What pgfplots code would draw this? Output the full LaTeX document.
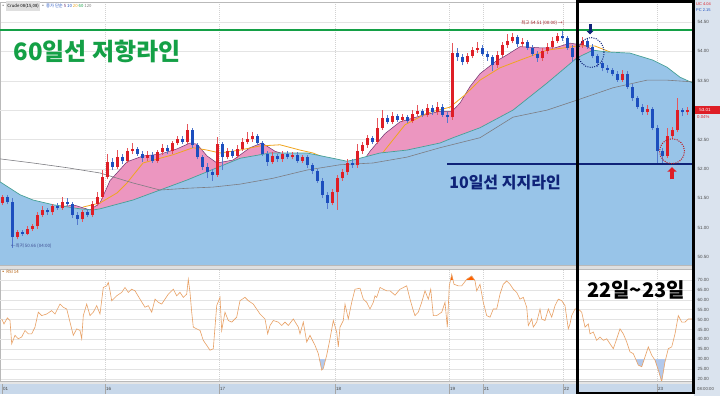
\documentclass[border=0pt]{standalone}
\usepackage{pgfplots}
\pgfplotsset{compat=1.18}
\usepackage{pgfplotstable}
\usetikzlibrary{arrows.meta}
\usepackage{fontspec}
\setmainfont{Liberation Sans}
\newfontfamily\kr{Noto Sans CJK KR}
\definecolor{upc}{RGB}{222,30,38}
\definecolor{dnc}{RGB}{28,78,190}
\definecolor{areablue}{RGB}{152,196,232}
\definecolor{pinkarea}{RGB}{236,150,192}
\definecolor{tealline}{RGB}{70,160,150}
\definecolor{ma5}{RGB}{110,50,110}
\definecolor{ma20}{RGB}{240,165,30}
\definecolor{ma120}{RGB}{125,125,130}
\definecolor{resgreen}{RGB}{20,160,70}
\definecolor{supnavy}{RGB}{15,35,120}
\definecolor{sidebg}{RGB}{218,227,238}
\definecolor{datebg}{RGB}{200,216,234}
\definecolor{rsiline}{RGB}{232,160,100}
\definecolor{gridc}{RGB}{228,228,228}

\pgfplotstableread{
x o h l c
2.5 51.42 51.56 51.38 51.52
17.5 50.84 50.96 50.80 50.92
27.5 50.90 51.02 50.87 50.98
32.5 50.98 51.06 50.94 51.02
37.5 51.02 51.26 50.98 51.22
42.5 51.22 51.36 51.18 51.30
52.5 51.26 51.40 51.22 51.36
62.5 51.34 51.52 51.30 51.44
82.5 51.14 51.30 51.10 51.26
92.5 51.22 51.46 51.18 51.40
97.5 51.40 51.60 51.36 51.52
102.5 51.52 51.98 51.48 51.86
107.5 51.86 52.25 51.82 52.12
117.5 52.04 52.32 52.00 52.20
127.5 52.14 52.36 52.10 52.30
132.5 52.30 52.44 52.26 52.34
147.5 52.18 52.30 52.14 52.24
157.5 52.14 52.32 52.10 52.28
162.5 52.28 52.42 52.24 52.36
172.5 52.30 52.48 52.26 52.44
177.5 52.44 52.56 52.40 52.50
187.5 52.46 52.76 52.42 52.66
217.5 51.90 52.55 51.86 52.42
227.5 52.20 52.36 52.16 52.30
237.5 52.22 52.40 52.18 52.34
242.5 52.34 52.52 52.30 52.46
247.5 52.46 52.62 52.42 52.50
252.5 52.50 52.62 52.46 52.56
272.5 52.12 52.28 52.08 52.22
282.5 52.16 52.30 52.12 52.26
292.5 52.20 52.28 52.16 52.24
302.5 52.14 52.24 52.10 52.20
332.5 51.42 51.66 51.38 51.60
337.5 51.60 51.90 51.30 51.84
342.5 51.84 52.00 51.80 51.94
347.5 51.94 52.16 51.90 52.10
357.5 52.06 52.42 52.02 52.30
362.5 52.30 52.46 52.26 52.40
367.5 52.40 52.58 52.36 52.52
377.5 52.46 52.86 52.42 52.70
382.5 52.70 53.00 52.66 52.86
392.5 52.80 52.96 52.76 52.90
402.5 52.84 52.94 52.80 52.88
412.5 52.82 53.00 52.78 52.94
417.5 52.94 53.08 52.90 52.98
427.5 52.92 53.10 52.88 53.04
437.5 52.96 53.14 52.92 53.06
452.5 52.88 54.14 52.84 53.98
467.5 53.82 53.98 53.78 53.92
472.5 53.92 54.08 53.88 54.02
477.5 54.02 54.16 53.98 54.06
497.5 53.76 54.00 53.72 53.94
502.5 53.94 54.16 53.90 54.10
507.5 54.10 54.30 54.06 54.18
512.5 54.18 54.32 54.14 54.24
522.5 54.12 54.22 54.08 54.16
542.5 53.88 54.06 53.84 54.00
547.5 54.00 54.14 53.96 54.08
552.5 54.08 54.24 54.04 54.18
557.5 54.18 54.32 54.14 54.26
577.5 53.90 54.14 53.86 54.10
582.5 54.10 54.24 54.06 54.18
622.5 53.52 53.68 53.48 53.62
647.5 52.96 53.08 52.92 53.02
667.5 52.22 52.70 52.18 52.56
672.5 52.56 52.72 52.50 52.66
677.5 52.66 53.20 52.62 53.00
687.5 52.96 53.06 52.92 53.01
}\upcandles

\pgfplotstableread{
x o h l c
7.5 51.52 51.56 51.40 51.44
12.5 51.44 51.50 50.66 50.84
22.5 50.92 50.96 50.86 50.90
47.5 51.30 51.34 51.22 51.26
57.5 51.36 51.42 51.30 51.34
67.5 51.44 51.50 51.36 51.40
72.5 51.40 51.44 51.16 51.22
77.5 51.22 51.26 51.05 51.14
87.5 51.26 51.32 51.18 51.22
112.5 52.12 52.18 51.98 52.04
122.5 52.20 52.26 52.08 52.14
137.5 52.34 52.38 52.22 52.26
142.5 52.26 52.30 52.12 52.18
152.5 52.24 52.28 52.10 52.14
167.5 52.36 52.40 52.26 52.30
182.5 52.50 52.56 52.42 52.46
192.5 52.66 52.70 52.36 52.40
197.5 52.40 52.44 52.16 52.20
202.5 52.20 52.24 51.98 52.04
207.5 52.04 52.10 51.84 51.94
212.5 51.94 52.00 51.80 51.90
222.5 52.42 52.46 51.98 52.20
232.5 52.30 52.34 52.18 52.22
257.5 52.56 52.60 52.40 52.44
262.5 52.44 52.48 52.22 52.26
267.5 52.26 52.30 52.05 52.12
277.5 52.22 52.26 52.12 52.16
287.5 52.26 52.30 52.16 52.20
297.5 52.24 52.28 52.10 52.14
307.5 52.20 52.24 52.02 52.06
312.5 52.06 52.10 51.92 51.96
317.5 51.96 52.00 51.76 51.80
322.5 51.80 51.84 51.50 51.56
327.5 51.56 51.60 51.32 51.42
352.5 52.10 52.16 52.02 52.06
372.5 52.52 52.56 52.42 52.46
387.5 52.86 52.92 52.76 52.80
397.5 52.90 52.94 52.80 52.84
407.5 52.88 52.92 52.78 52.82
422.5 52.98 53.02 52.88 52.92
432.5 53.04 53.08 52.92 52.96
442.5 53.06 53.10 52.88 52.92
447.5 52.92 52.96 52.78 52.88
457.5 53.98 54.06 53.84 53.90
462.5 53.90 53.96 53.76 53.82
482.5 54.06 54.10 53.92 53.96
487.5 53.96 54.00 53.84 53.90
492.5 53.90 53.94 53.66 53.76
517.5 54.24 54.28 54.08 54.12
527.5 54.16 54.20 54.02 54.06
532.5 54.06 54.10 53.92 53.96
537.5 53.96 54.00 53.82 53.88
562.5 54.26 54.36 54.18 54.22
567.5 54.22 54.26 54.02 54.06
572.5 54.06 54.10 53.82 53.90
587.5 54.18 54.22 54.04 54.08
592.5 54.08 54.12 53.88 53.92
597.5 53.92 53.96 53.74 53.80
602.5 53.80 53.84 53.66 53.72
607.5 53.72 53.76 53.64 53.68
612.5 53.68 53.72 53.58 53.62
617.5 53.62 53.66 53.48 53.52
627.5 53.62 53.66 53.36 53.40
632.5 53.40 53.44 53.16 53.20
637.5 53.20 53.24 53.02 53.06
642.5 53.06 53.10 52.92 52.96
652.5 53.02 53.06 52.66 52.70
657.5 52.70 52.74 52.10 52.30
662.5 52.30 52.36 52.08 52.22
682.5 53.00 53.04 52.90 52.96
}\dncandles

\pgfplotstableread{
x y
0 51.78
20 51.56
33 51.47
53 51.39
80 51.32
93 51.30
100 51.32
133 51.47
160 51.64
187 51.81
207 51.95
240 52.18
270 52.27
307 52.27
333 52.18
347 52.13
353 52.15
380 52.27
407 52.32
440 52.44
453 52.53
480 52.70
513 53.00
547 53.46
577 53.89
593 54.02
607 53.99
630 53.97
653 53.85
667 53.73
680 53.56
693 53.46
}\masixty

\pgfplotstableread{
x y
0 52.17
33 52.10
67 52.02
100 51.93
133 51.76
160 51.64
187 51.67
213 51.69
240 51.74
273 51.84
307 51.98
340 52.07
373 52.10
407 52.20
440 52.36
480 52.53
513 52.88
547 53.00
577 53.17
613 53.38
647 53.51
667 53.51
693 53.48
}\maonetwenty

\pgfplotstableread{
x y
0 51.46
15 51.30
30 51.06
45 51.12
60 51.36
75 51.38
90 51.30
100 51.42
110 51.80
127 52.12
143 52.22
160 52.25
177 52.34
190 52.44
197 52.42
207 52.22
217 52.10
233 52.15
250 52.36
262 52.44
275 52.30
290 52.22
305 52.20
318 52.05
330 51.75
345 51.78
358 52.00
370 52.30
385 52.60
400 52.80
420 52.90
440 52.98
452 52.98
460 53.12
470 53.40
480 53.62
495 53.82
507 53.94
520 54.08
540 54.06
555 54.06
570 54.14
585 54.10
600 53.96
615 53.80
630 53.62
645 53.35
660 52.90
675 52.60
693 52.78
}\mafive

\pgfplotstableread{
x y
83 51.35
100 51.42
117 51.59
127 51.76
143 52.10
160 52.18
173 52.24
193 52.36
207 52.32
220 52.27
240 52.32
260 52.39
280 52.41
300 52.32
313 52.27
330 52.15
350 52.10
365 52.10
377 52.15
390 52.43
405 52.75
427 52.95
450 53.05
465 53.26
480 53.51
500 53.72
520 53.85
547 54.02
577 54.09
595 54.09
610 53.99
630 53.77
660 53.43
693 53.17
}\matwenty

\pgfplotstableread{
x y
1.7 50.3
4 47.8
7.3 50.8
10 49.5
11.7 37.8
15 42
18.3 40.3
21.7 41.2
25 44.5
28.3 42.8
31.7 42.8
35 46.2
38.3 53.7
41.7 52
46.7 52.8
51.7 54.5
55 52.8
60 57.8
63.3 56.2
66.7 55.3
70 48.7
73.3 42
76.7 45.3
80 44.5
81.7 40.3
83.3 52
86.7 57.8
90 52
93.3 53.7
96.7 57
100 52.8
103.3 66.2
106.7 67
108.3 68.7
110 64.5
111.7 59.5
116.7 62
121.7 63.7
125 66.2
128.3 63.7
131.7 65.3
135 64.5
140 60.3
145 56.2
148.3 57
151.7 53.7
155 60.3
158.3 58.7
161.7 57.8
165 60.3
168.3 62.8
173.3 65.3
176.7 62
180 63.7
183.3 61.2
186.7 62.8
188.3 70.3
190 63.7
191.7 53.7
193.3 46.2
196.7 45.3
200 44.5
203.3 39.5
206.7 37
210 34.5
213.3 35.3
216.7 57
220 61.2
221.7 44.5
225 53.7
228.3 49.5
231.7 48.7
236.7 51.2
240 59.5
245 61.2
248.3 59.5
253.3 57.8
260 52.8
265 50.3
267.7 42.8
270 47
273.3 49.5
278.3 48.7
281.7 47
285 48.7
288.3 47
293.3 50.3
298.3 46.2
300 42.8
303.3 48.7
306.7 38.7
310 42
315 37
318.3 32.8
320 28.7
321.7 24.5
323.3 25.3
326.7 32
330 40.3
333.3 49.5
336.7 43.7
338.3 36.2
340 46.2
343.3 49.5
345 57.8
348.3 50.3
351.7 58.7
355 65.3
360 65.8
363.3 60.3
366.7 58.7
370 55.3
373.3 58.7
375 62
376.7 61.2
380 66.2
383.3 65.3
386.7 64.5
390 64.5
395 62.3
400 65.3
406.7 67
410 60.3
413.3 54.5
415 52
418.3 53.7
421.7 58.7
425 64.5
428.3 60.3
430.7 65.3
433.3 52
436.7 52
441.7 53.7
445 58.7
447.3 46.2
449.3 67
451.7 72.8
454 67.8
458.3 67
461.7 67
466.7 70.3
471.7 72
475 69.5
476.7 64.5
480 67.8
483.3 58.7
486.7 52
490 51.2
493.3 55.3
496.7 55.3
500 62.8
503.3 67.8
506.7 69.5
510 67.8
513.3 65.3
516.7 63.7
520 60.3
523.3 61.2
526.7 56.2
528.3 47
531.7 50.3
533.3 46.2
536.7 48.7
540 55.3
541.7 50.3
545 49.5
548.3 55.3
551.7 51.2
555 57
558.3 60.3
561.7 59.5
565 57
568.3 45.3
570 47.8
571.7 52
575 55.3
578.3 55.3
581.7 53.7
585 46.2
588.3 47.8
590 42.8
593.3 43.7
596.7 39.5
600 41.2
603.3 39.5
606.7 40.3
610 37.8
613.3 35.3
616.7 40.3
620 45.3
623.3 42.8
626.7 38.7
630 33.7
633.3 32.8
638.3 27
641.7 26.2
645 31.2
648.3 36.2
651.7 32
655 29.5
658.3 24.5
661.7 18.7
665 28.7
668.3 35.3
671.7 36.2
675 42.8
678.3 52
681.7 48.7
685 48.7
688.3 50.3
693 50.3
}\rsidata

\pgfplotsset{
  chartbase/.style={
    scale only axis, width=693pt,
    xmin=0, xmax=693,
    axis line style={gray!55},
    xtick={105,219,335,449,483,563,657}, xticklabels={},
    xtick style={draw=none},
    xmajorgrids, major x grid style={gray!35, dash pattern=on 1pt off 1pt},
    ymajorgrids, major y grid style={gridc},
    ytick pos=right, yticklabel pos=right, tick align=outside,
    major tick length=2pt, minor tick length=1.2pt,
    y tick style={gray!70!black, line width=0.3pt},
    /pgf/number format/assume math mode=true,
    yticklabel style={font=\fontsize{4.5}{5}\selectfont, text=black!70, xshift=-1pt,
      /pgf/number format/.cd, fixed, fixed zerofill, precision=2},
  },
  candle/.style={draw=none, mark=none, forget plot,
    error bars/.cd, y dir=plus, y explicit, error mark=none},
}

\begin{document}
\begin{tikzpicture}
\useasboundingbox (0pt,0pt) rectangle (720pt,396pt);
\fill[white] (0pt,0pt) rectangle (720pt,396pt);
\fill[sidebg] (694pt,0pt) rectangle (720pt,396pt);
\fill[gray!25] (0pt,127pt) rectangle (694pt,131pt);
\fill[gray!20] (0pt,12pt) rectangle (694pt,15pt);

% ---------------- main price panel ----------------
\begin{scope}[shift={(0pt,131pt)}]
\begin{axis}[chartbase,
  anchor=south west, at={(0pt,0pt)}, height=263pt,
  ymin=50.364, ymax=54.84,
  ytick={50.5,51,51.5,52,52.5,53.5,54,54.5},
  extra y ticks={53}, extra y tick labels={},
  minor y tick num=4,
]
\addplot[fill=pinkarea, draw=none] table[x=x,y=y]{\mafive} \closedcycle;
\addplot[ma5, line width=0.5pt] table[x=x,y=y]{\mafive};
\addplot[ma20, line width=0.8pt] table[x=x,y=y]{\matwenty};
\addplot[fill=areablue, draw=none] table[x=x,y=y]{\masixty} \closedcycle;
\addplot[tealline, line width=0.7pt] table[x=x,y=y]{\masixty};
\addplot[ma120, line width=0.6pt] table[x=x,y=y]{\maonetwenty};
% wicks
\addplot[candle, error bar style={draw=upc!75, solid, line width=0.5pt}]
  table[x=x, y=l, y error expr=\thisrow{h}-\thisrow{l}]{\upcandles};
\addplot[candle, error bar style={draw=dnc!75, solid, line width=0.5pt}]
  table[x=x, y=l, y error expr=\thisrow{h}-\thisrow{l}]{\dncandles};
% bodies
\addplot[candle, error bar style={draw=upc, solid, line width=3pt}]
  table[x=x, y=o, y error expr=\thisrow{c}-\thisrow{o}]{\upcandles};
\addplot[candle, error bar style={draw=dnc, solid, line width=3pt}]
  table[x=x, y=c, y error expr=\thisrow{o}-\thisrow{c}]{\dncandles};
% resistance / support
\addplot[resgreen, line width=2pt] coordinates {(0,54.364) (693,54.364)};
\addplot[supnavy, line width=2pt] coordinates {(447,52.08) (693,52.08)};
% annotations
\node[text=resgreen, font=\kr\bfseries\fontsize{24}{24}\selectfont] at (axis cs:97,54.0) {60일선 저항라인};
\node[text=supnavy, font=\kr\bfseries\fontsize{16}{16}\selectfont] at (axis cs:505,51.76) {10일선 지지라인};
\node[anchor=west, inner sep=0pt, font=\kr\fontsize{4.3}{5}\selectfont] at (axis cs:1,54.77)
  {\textcolor{gray}{▪} \colorbox{gray!25}{\kern-2pt Crude 08(15,08)\kern-2pt} \textcolor{gray}{▪} \textcolor{dnc}{종가 단순} \textcolor{ma5}{5} \textcolor{dnc}{10} \textcolor{ma20}{20} \textcolor{resgreen}{60} \textcolor{gray}{120}};
\node[anchor=east, inner sep=0pt, text=upc!70!black, font=\kr\fontsize{4.5}{5}\selectfont] at (axis cs:564,54.48) {최고 54.51 (00:00) →|};
\node[anchor=west, inner sep=0pt, text=supnavy!80, font=\kr\fontsize{4.5}{5}\selectfont] at (axis cs:11,50.69) {←최저 50.66 (04:00)};
\draw[supnavy, line width=1pt, dash pattern=on 1pt off 1.3pt] (axis cs:591,53.98) ellipse [x radius=13pt, y radius=15pt];
\draw[upc!85!black, line width=1pt, dash pattern=on 1pt off 1.3pt] (axis cs:672,52.30) ellipse [x radius=12.5pt, y radius=12.5pt];
\draw[supnavy, line width=3pt, -{Triangle[length=3.5pt,width=7pt]}] (axis cs:590,54.46) -- (axis cs:590,54.29);
\draw[upc, line width=3.5pt, -{Triangle[length=4.5pt,width=9pt]}] (axis cs:672,51.82) -- (axis cs:672,52.03);
\end{axis}
\end{scope}

% ---------------- RSI panel ----------------
\begin{scope}[shift={(0pt,15pt)}]
\begin{axis}[chartbase,
  anchor=south west, at={(0pt,0pt)}, height=112pt,
  ymin=19, ymax=75.5,
  ytick={20,25,30,35,40,45,50,55,60,65,70},
  major y grid style={gray!22},
  extra y ticks={30,40,50,60,70}, extra y tick labels={},
  extra y tick style={grid style={gray!55}},
]
% shaded zones below 30 and above 70 (same readings as the RSI line)
\addplot[fill=cyan!55!blue!30, draw=none] coordinates {(319.2,30) (320,28.7) (321.7,24.5) (323.3,25.3) (325.5,30)} -- cycle;
\addplot[fill=cyan!55!blue!30, draw=none] coordinates {(635.7,30) (638.3,27) (641.7,26.2) (644.2,30)} -- cycle;
\addplot[fill=cyan!55!blue!30, draw=none] coordinates {(654.3,30) (655,29.5) (658.3,24.5) (661.7,18.7) (665,28.7) (665.2,30)} -- cycle;
\addplot[fill=orange!75!red, draw=none] coordinates {(450.5,70) (451.7,72.8) (453.2,70)} -- cycle;
\addplot[fill=orange!75!red, draw=none] coordinates {(466.2,70) (466.7,70.3) (471.7,72) (474.7,70)} -- cycle;
\addplot[rsiline, line width=0.6pt] table[x=x,y=y]{\rsidata};
\node[anchor=west, inner sep=0pt, text=orange!70!black, font=\kr\fontsize{4.3}{5}\selectfont] at (axis cs:1,73.8) {▪ RSI 14};
\end{axis}
\end{scope}

% ---------------- date strip ----------------
\fill[datebg] (0pt,2pt) rectangle (694pt,12pt);
\foreach \xx/\lab in {2/01/15,105/16,219/17,335/18,449/19,483/21,563/22,657/23}{
  \draw[gray!70] (\xx pt,2pt) -- (\xx pt,12pt);
  \node[anchor=west, inner sep=0.8pt, font=\fontsize{4.5}{5}\selectfont, text=black!75] at (\xx pt,7pt) {\lab};
}
\node[anchor=west, inner sep=0pt, font=\fontsize{4.3}{5}\selectfont, text=black!70] at (697pt,7pt) {08:00:00};

% ---------------- right strip extras ----------------
\fill[upc] (694pt,282pt) rectangle (720pt,290pt);
\node[inner sep=0pt, font=\fontsize{4.5}{5}\selectfont, text=white] at (705pt,286pt) {53.01};
\node[anchor=west, inner sep=0pt, font=\fontsize{4.3}{5}\selectfont, text=upc] at (697pt,278.5pt) {0.04\%};
\node[anchor=west, inner sep=0pt, font=\fontsize{4}{4.5}\selectfont, text=upc] at (696pt,391.5pt) {UC 4.04};
\node[anchor=west, inner sep=0pt, font=\fontsize{4}{4.5}\selectfont, text=dnc] at (696pt,386pt) {PC 2.15};

% ---------------- highlight box ----------------
\draw[black, line width=2.4pt] (577.5pt,3pt) rectangle (693.5pt,394.5pt);
\node[font=\kr\bfseries\fontsize{20}{20}\selectfont] at (636pt,106pt) {22일\textasciitilde 23일};
\end{tikzpicture}
\end{document}
